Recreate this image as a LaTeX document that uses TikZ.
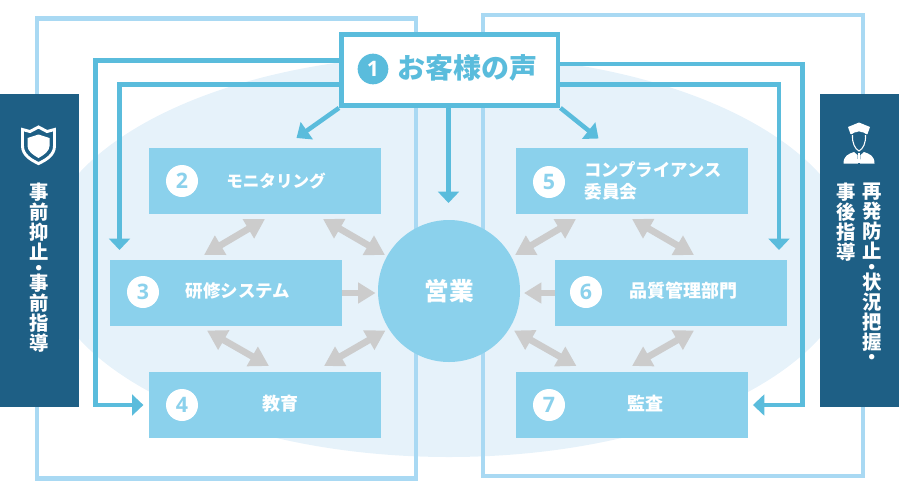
\documentclass[tikz,border=0pt]{standalone}
\usepackage{fontspec}
\setmainfont{Noto Sans CJK JP}
\newfontfamily\numfont{Open Sans}
\usetikzlibrary{arrows.meta,calc}
\definecolor{boxblue}{HTML}{8BD1EC}
\definecolor{lineblue}{HTML}{5ABCDC}
\definecolor{frameblue}{HTML}{A9D9F3}
\definecolor{paleblue}{HTML}{E6F2FA}
\definecolor{panelblue}{HTML}{1E5F85}
\definecolor{arrowgray}{HTML}{CCCCCC}
\newcommand{\labelsize}[1]{\fontsize{#1}{17}\selectfont}
\tikzset{
	deptbox/.style={fill=boxblue,minimum width=174pt,minimum height=49.5pt,inner sep=0pt},
	deptlabel/.style={text=white,inner sep=0pt,font=\fontsize{13.5}{17}\selectfont\bfseries,align=left},
	numdisc/.style={circle,fill=white,minimum size=24pt,inner sep=0pt,text=boxblue,font=\numfont\fontsize{16}{16}\selectfont\bfseries},
	frameline/.style={draw=frameblue,line width=3.7pt},
	bluearrow/.style={draw=lineblue,line width=3.2pt,-{Triangle[width=15.5pt,length=8.5pt]}},
	bigarrow/.style={draw=lineblue,line width=3.4pt,-{Triangle[width=15.5pt,length=9.5pt]}},
	grayarrow/.style={draw=arrowgray,line width=5pt,{Triangle[width=16pt,length=14.5pt]}-{Triangle[width=16pt,length=14.5pt]}},
	grayin/.style={draw=arrowgray,line width=5pt,-{Triangle[width=15pt,length=13pt]}},
	paneltext/.style={text=white,inner sep=0pt,align=center,font=\fontsize{14.5}{15}\selectfont\bfseries}
}
\begin{document}
\begin{tikzpicture}[x=0.75pt,y=-0.75pt]
	\useasboundingbox (0,0) rectangle (899,497);
	% background
	\fill[paleblue] (449,256) ellipse [x radius=406,y radius=201];
	\draw[frameline] (37,18.5) rectangle (416,478.5);
	\draw[frameline] (483,15) rectangle (863,476);
	% gray arrows between the departments
	\foreach \na/\xa/\ya/\xb/\yb in {p1/204/255/265/219,p2/323/219/385/255,p3/207/330.5/269/366,p4/385.5/330.5/324/366,
		p5/515/255/576/219,p6/632/219/694/255,p7/514/330.5/576.5/366,p8/694/330.5/632/366}{
		\coordinate (\na a) at (\xa,\ya);
		\coordinate (\na b) at (\xb,\yb);
		\draw[grayarrow] (\na a) -- (\na b);
	}
	% departments
	\node[deptbox] (monitor) at (265,181) {};
	\node[deptbox] (kenshu) at (226,293) {};
	\node[deptbox] (kyoiku) at (265,405) {};
	\node[deptbox] (compliance) at (632,181) {};
	\node[deptbox] (hinshitsu) at (671,293) {};
	\node[deptbox] (kansa) at (632,405) {};
	\node[circle,fill=boxblue,minimum size=106.5pt,inner sep=0pt,text=white,font=\fontsize{18.5}{18.5}\selectfont\bfseries] (eigyo) at (449,291) {営業};
	\coordinate (tipL) at (375.5,293);
	\coordinate (tipR) at (524,293);
	\draw[grayin] (kenshu.east) -- (tipL);
	\draw[grayin] (hinshitsu.west) -- (tipR);
	% numbers and labels
	\node[numdisc] at (182,181) {2};
	\node[numdisc] at (143,292) {3};
	\node[numdisc] at (182,405) {4};
	\node[numdisc] at (549,182) {5};
	\node[numdisc] at (586,292) {6};
	\node[numdisc] at (549,405) {7};
	\node[deptlabel] at (276,181) {\labelsize{12.4}モニタリング};
	\node[deptlabel] at (238,291) {\labelsize{13.1}研修システム};
	\node[deptlabel] at (280,404) {教育};
	\node[deptlabel,anchor=west] at (584,181) {\labelsize{13}コンプライアンス\\\labelsize{13.3}委員会};
	\node[deptlabel] at (683,291) {品質管理部門};
	\node[deptlabel] at (645,404) {監査};
	% customer box
	\node[draw=lineblue,line width=3.7pt,fill=white,minimum width=162.4pt,minimum height=53.25pt,inner sep=0pt] (voice) at (449.7,70) {};
	\node[circle,fill=lineblue,minimum size=23pt,inner sep=0pt,text=white,font=\numfont\fontsize{16}{16}\selectfont\bfseries] at (373,69) {1};
	\node[text=lineblue,inner sep=0pt,font=\fontsize{21}{21}\selectfont\bfseries] at (467,68) {お客様の声};
	% blue connectors
	\coordinate (leftA) at (95.5,60.5);
	\coordinate (leftB) at (119.5,84.5);
	\coordinate (rightA) at (802.5,64);
	\coordinate (rightB) at (779,84.5);
	\coordinate (diagL) at (296.5,138);
	\coordinate (diagR) at (598.5,138.5);
	\coordinate (tipC) at (448.5,203);
	\coordinate (tipB) at (119.5,250);
	\coordinate (tipD) at (779,250);
	\draw[bluearrow] (voice.west |- leftA) -- (leftA) -- (leftA |- kyoiku) -- ([xshift=-4pt]kyoiku.west);
	\draw[bluearrow] (voice.west |- leftB) -- (leftB) -- (tipB);
	\draw[bluearrow] (voice.east |- rightA) -- (rightA) -- (rightA |- kansa) -- ([xshift=3.5pt]kansa.east);
	\draw[bluearrow] (voice.east |- rightB) -- (rightB) -- (tipD);
	\draw[bluearrow] (voice.south -| tipC) -- (tipC);
	\draw[bigarrow] (voice.south west) -- (diagL);
	\draw[bigarrow] (voice.south east) -- (diagR);
	% side panels
	\fill[panelblue] (0,94) rectangle (79,407);
	\fill[panelblue] (820,94) rectangle (899,407);
	\node[paneltext,anchor=north] at (39.5,183) {事\\前\\抑\\止\\[-3.5pt]・\\[-3.5pt]事\\前\\指\\導};
	\node[paneltext,anchor=north] at (872.5,183) {再\\発\\防\\止\\[-3.5pt]・\\[-3.5pt]状\\況\\把\\握\\[-3.5pt]・};
	\node[paneltext,anchor=north] at (846.5,183) {事\\後\\指\\導};
	% shield icon
	\draw[white,line width=2.2pt,line join=miter] (38.5,127) -- (47,131.5) -- (54.5,129.5) -- (54.5,146) .. controls (54.5,155) and (46,160) .. (38.5,163.5) .. controls (31,160) and (22.5,155) .. (22.5,146) -- (22.5,129.5) -- (30,131.5) -- cycle;
	\fill[white] (38.5,134.5) -- (49.5,138) -- (49.5,146) .. controls (49.5,151) and (44,155) .. (38.5,158) .. controls (33,155) and (27.5,151) .. (27.5,146) -- (27.5,138) -- cycle;
	% officer icon
	\fill[white] (859,122.5) -- (870,127) -- (867.5,134) -- (866,134) .. controls (864,131) and (854,131) .. (852,134) -- (850.5,134) -- (848,127) -- cycle;
	\fill[panelblue] (859,133.5) circle (2.2);
	\draw[white,line width=0.8pt] (852.5,135) .. controls (852,143) and (855,149) .. (859,151) .. controls (863,149) and (866,143) .. (865.5,135);
	\fill[white] (843.5,163.5) .. controls (843.5,156) and (848,154) .. (854,152) -- (857.5,155) -- (858,163.5) -- cycle;
	\fill[white] (874.5,163.5) .. controls (874.5,156) and (870,154) .. (864,152) -- (860.5,155) -- (860,163.5) -- cycle;
	\draw[white,line width=0.8pt] (859,153) -- (859,163);
\end{tikzpicture}
\end{document}
